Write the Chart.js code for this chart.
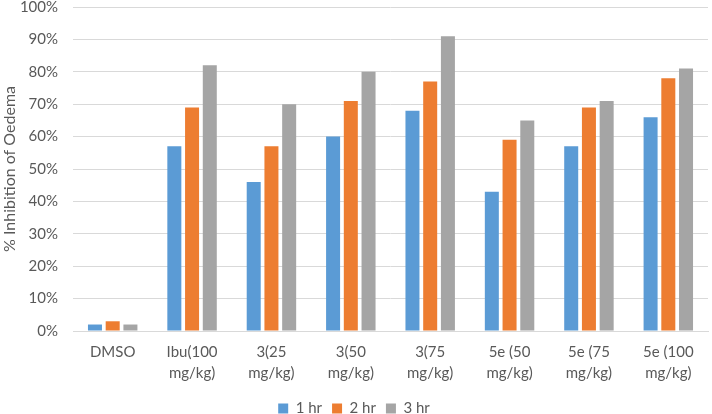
<!DOCTYPE html>
<html>
<head>
<meta charset="utf-8">
<script src="https://cdn.jsdelivr.net/npm/chart.js@4/dist/chart.umd.min.js"></script>
<style>
  html, body { margin: 0; padding: 0; background: #fff; }
  #wrap { width: 712px; height: 414px; position: relative; }
</style>
</head>
<body>
<div id="wrap"><canvas id="chart"></canvas></div>
<script>
  // datos (%)
  const categorias = [
    ["DMSO"],
    ["Ibu(100", "mg/kg)"],
    ["3(25", "mg/kg)"],
    ["3(50", "mg/kg)"],
    ["3(75", "mg/kg)"],
    ["5e (50", "mg/kg)"],
    ["5e (75", "mg/kg)"],
    ["5e (100", "mg/kg)"],
  ];
  const hr1 = [2, 57, 46, 60, 68, 43, 57, 66];
  const hr2 = [3, 69, 57, 71, 77, 59, 69, 78];
  const hr3 = [2, 82, 70, 80, 91, 65, 71, 81];
  const series = ["1 hr", "2 hr", "3 hr"];
  const colores = ["#5B9BD5", "#ED7D31", "#A5A5A5"];

  const FONT = "Lato, 'Open Sans', sans-serif";
  const TXT = "#595959";

  new Chart(document.getElementById("chart"), {
    type: "bar",
    data: {
      labels: categorias,
      datasets: [hr1, hr2, hr3].map((d, i) => ({
        label: series[i],
        data: d,
        backgroundColor: colores[i],
        categoryPercentage: 0.67,
        barPercentage: 0.79,
      })),
    },
    options: {
      responsive: true,
      maintainAspectRatio: false,
      animation: false,
      layout: { padding: { top: 7, right: 4, left: 0, bottom: -12 } },
      plugins: {
        legend: {
          position: "bottom",
          labels: {
            boxWidth: 10,
            boxHeight: 10,
            color: TXT,
            font: { family: FONT, size: 15 },
            padding: 10,
          },
        },
        tooltip: { enabled: false },
      },
      scales: {
        x: {
          grid: { display: false, drawTicks: false },
          border: { color: "#D9D9D9" },
          ticks: {
            color: TXT,
            font: { family: FONT, size: 15, lineHeight: 1.37 },
            maxRotation: 0,
            autoSkip: false,
            padding: 11,
          },
          afterFit: (s) => { s.height = 60; },
        },
        y: {
          min: 0,
          max: 100,
          ticks: {
            stepSize: 10,
            color: TXT,
            font: { family: FONT, size: 15 },
            padding: 15,
            callback: (v) => v + "%",
          },
          grid: { color: "#D9D9D9", drawTicks: false },
          border: { display: false },
          title: {
            display: true,
            text: "% Inhibition of Oedema",
            color: TXT,
            font: { family: FONT, size: 16 },
            padding: { top: 0, bottom: 2 },
          },
          afterFit: (s) => { s.width = 73; s.paddingTop = 0; s.paddingBottom = 0; },
        },
      },
    },
  });
</script>
</body>
</html>
